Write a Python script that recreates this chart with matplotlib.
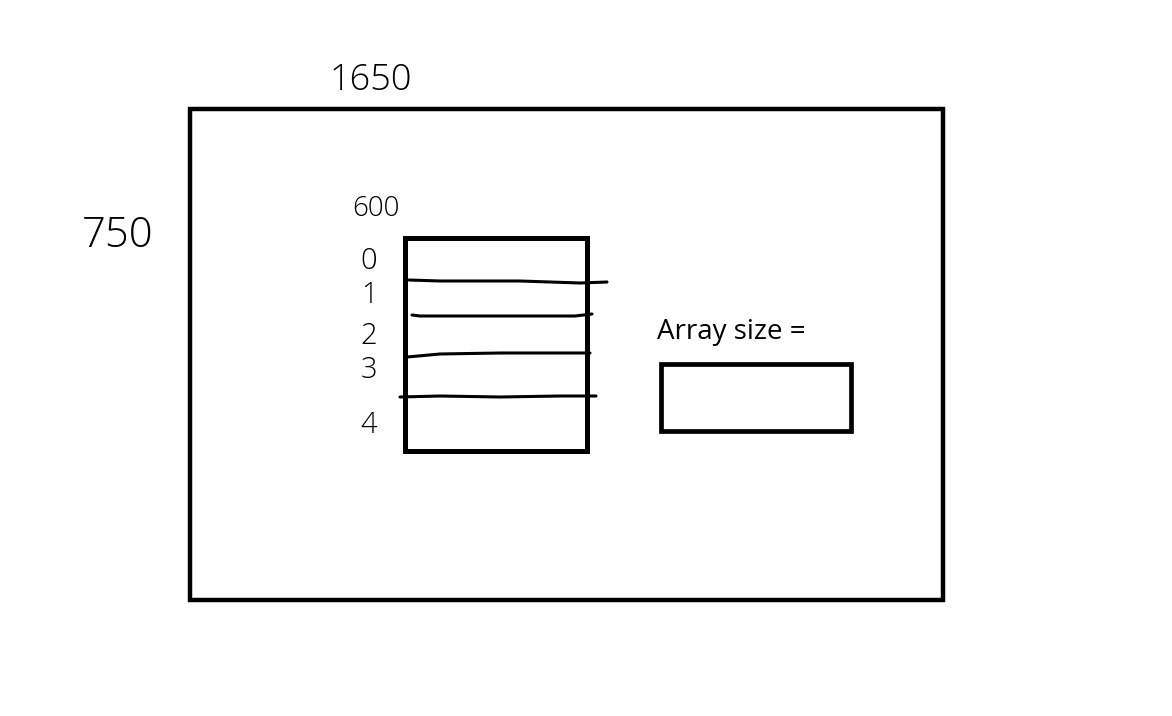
import matplotlib
matplotlib.use("Agg")
import matplotlib.pyplot as plt
from matplotlib.patches import Rectangle

# --- content of the sketch ---
width_label = "1650"
height_label = "750"
array_width_label = "600"
index_labels = ["0", "1", "2", "3", "4"]
size_caption = "Array size ="

W, H = 1172, 716
fig = plt.figure(figsize=(W / 100, H / 100), dpi=100)
ax = fig.add_axes([0, 0, 1, 1])
ax.set_xlim(0, W)
ax.set_ylim(H, 0)
ax.axis("off")

# outer frame
ax.add_patch(Rectangle((190, 109), 753, 491, fill=False, lw=3.2, ec="black"))
# array box
ax.add_patch(Rectangle((404.5, 237.5), 182, 213, fill=False, lw=3.6, ec="black"))
# result box
ax.add_patch(Rectangle((661, 364), 190, 67, fill=False, lw=3.4, ec="black"))

# hand-drawn separators inside the array
sep_lines = [
    ([409, 440, 520, 580, 607], [280, 281, 281, 283, 282]),
    ([412, 420, 500, 575, 592], [315, 316, 316, 316, 314]),
    ([407, 440, 500, 560, 590], [357, 354, 353, 353, 353]),
    ([400, 440, 500, 560, 596], [397, 396, 397, 396, 396]),
]
for xs, ys in sep_lines:
    ax.plot(xs, ys, color="black", lw=2.2, solid_capstyle="round")

hand = dict(family=["Open Sans", "DejaVu Sans"], fontweight="light", color="black")
ax.text(371, 80, width_label, ha="center", va="center", fontsize=26, **hand)
ax.text(118, 236, height_label, ha="center", va="center", fontsize=30, **hand)
ax.text(376, 209, array_width_label, ha="center", va="center", fontsize=20, **hand)

index_y = [261, 295, 336, 370, 425]
for lbl, y in zip(index_labels, index_y):
    ax.text(369, y, lbl, ha="center", va="center", fontsize=21, **hand)

ax.text(657, 339, size_caption, ha="left", va="baseline", fontsize=20,
        family=["Open Sans", "DejaVu Sans"], color="black")

fig.savefig("out.png", dpi=100, facecolor="white")
